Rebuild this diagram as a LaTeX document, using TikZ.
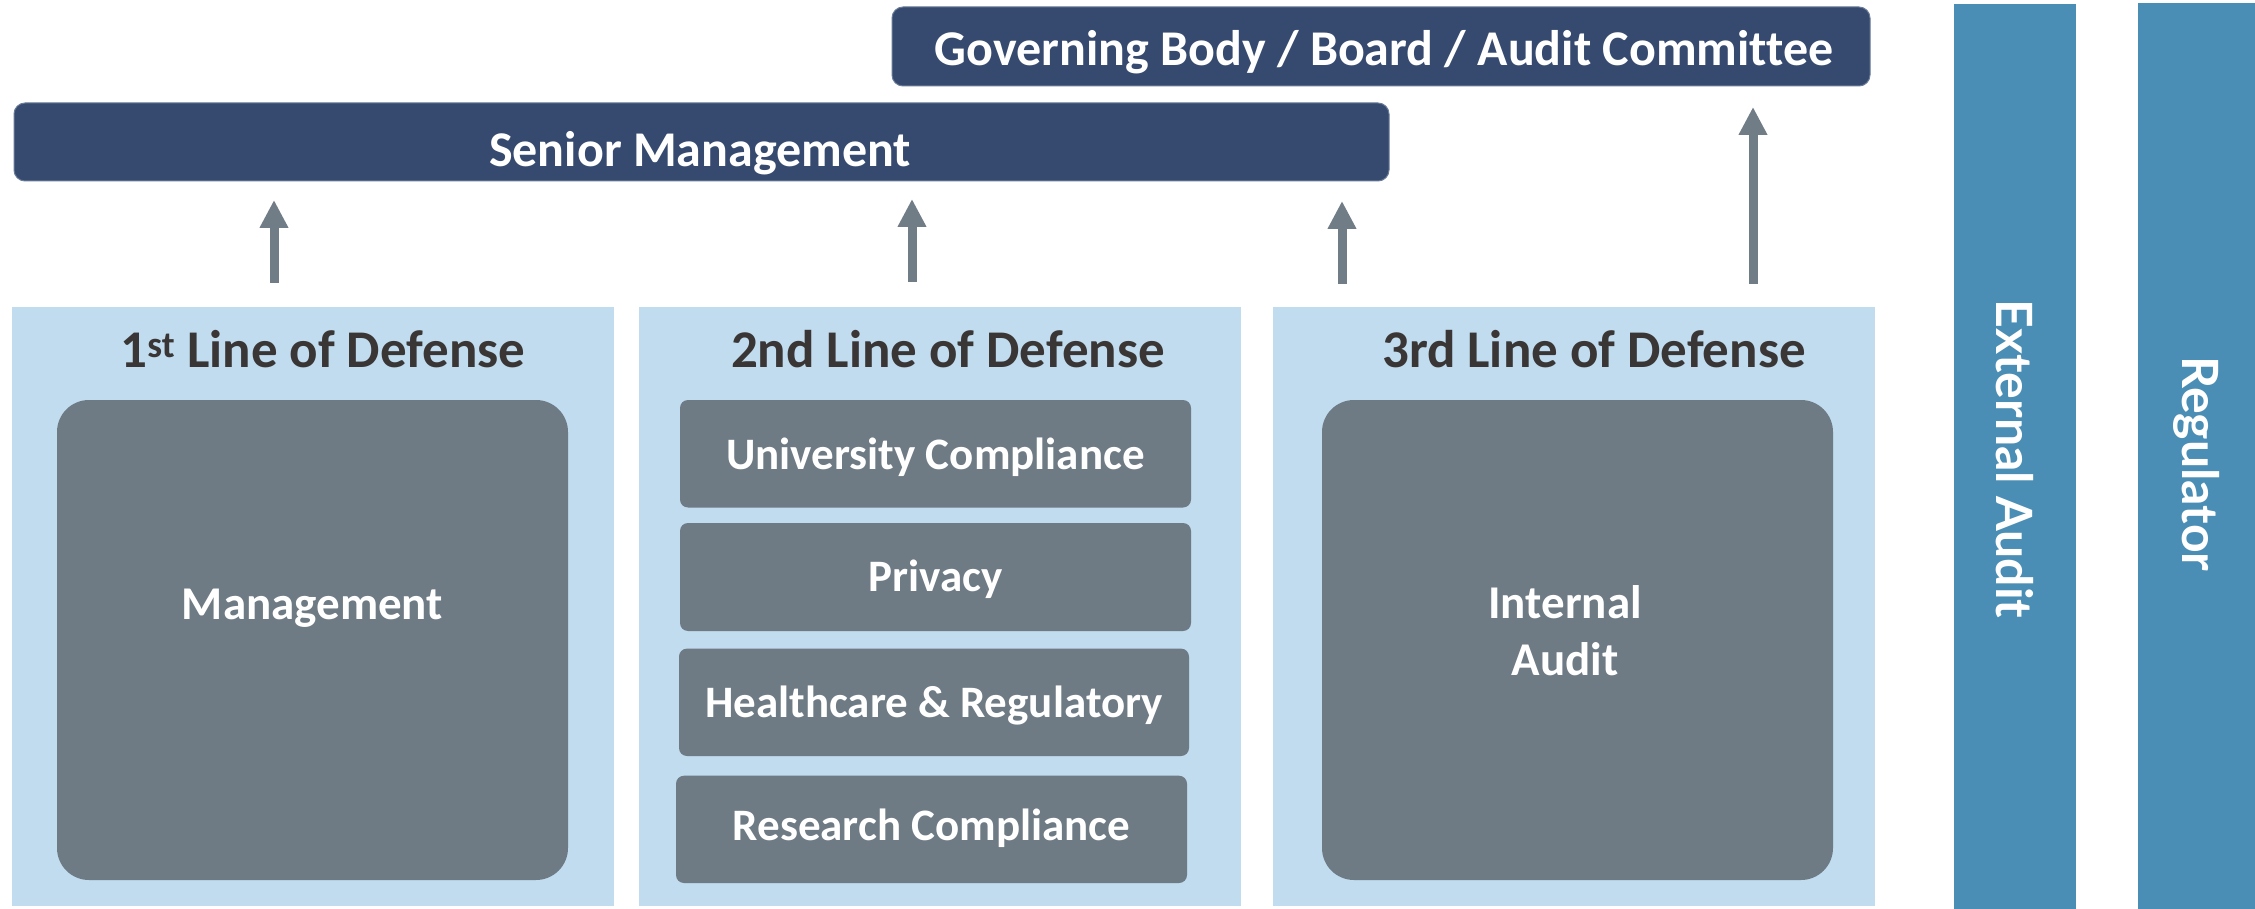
\documentclass[tikz,border=0pt]{standalone}
\usepackage{fontspec}
\setmainfont{Carlito}[Ligatures={NoCommon}]
\newfontfamily\latofont{Lato}[Ligatures={NoCommon}]
\usetikzlibrary{arrows.meta}
\definecolor{navy}{HTML}{364A6F}
\definecolor{navyedge}{HTML}{6A7C98}
\definecolor{lightblue}{HTML}{C0DCEE}
\definecolor{slate}{HTML}{6E7A84}
\definecolor{arrowgray}{HTML}{707C86}
\definecolor{barblue}{HTML}{4A8EB5}
\definecolor{titlegray}{HTML}{3A3636}
\begin{document}
\begin{tikzpicture}[x=1pt,y=-1pt,
  box/.style={rectangle, inner sep=0pt, outer sep=0pt},
  navybox/.style={box, fill=navy, draw=navyedge, line width=1pt, rounded corners=11pt},
  linebox/.style={box, fill=lightblue},
  bigbox/.style={box, fill=slate, rounded corners=32pt},
  itembox/.style={box, fill=slate, rounded corners=8pt},
  bar/.style={box, fill=barblue},
  headtext/.style={text=white, font=\bfseries\fontsize{50}{60}\selectfont, inner sep=0pt},
  titletext/.style={text=titlegray, font=\bfseries\fontsize{53}{64}\selectfont, inner sep=0pt},
  itemtext/.style={text=white, font=\bfseries\fontsize{45}{54}\selectfont, inner sep=0pt},
  bigtext/.style={text=white, font=\bfseries\fontsize{47}{57}\selectfont, inner sep=0pt, align=center},
  bartext/.style={text=white, font=\latofont\bfseries\fontsize{50}{60}\selectfont, inner sep=0pt, rotate=-90},
  uparrow/.style={draw=arrowgray, line width=9pt, -{Triangle[width=27pt,length=28pt]}},
]
\useasboundingbox (0,0) rectangle (2255,909);
\fill[white] (0,0) rectangle (2255,909);

% top bars
\node[navybox, minimum width=978pt, minimum height=79pt] (gov) at (1381,46.5) {};
\node[headtext, anchor=base] (govt) at (1384,66) {Governing Body / Board / Audit Committee};
\node[navybox, minimum width=1375pt, minimum height=78pt] (senior) at (701.5,142) {};
\node[headtext, anchor=base] (seniort) at (700,167) {Senior Management};

% line of defense panels
\node[linebox, minimum width=602pt, minimum height=599pt] (l1) at (313,606.5) {};
\node[linebox, minimum width=602pt, minimum height=599pt] (l2) at (940,606.5) {};
\node[linebox, minimum width=602pt, minimum height=599pt] (l3) at (1574,606.5) {};
\node[titletext, anchor=base] (t1) at (323,367) {1\textsuperscript{st} Line of Defense};
\node[titletext, anchor=base] (t2) at (948,367) {2nd Line of Defense};
\node[titletext, anchor=base] (t3) at (1594,367) {3rd Line of Defense};

% inner boxes
\node[bigbox, minimum width=511pt, minimum height=480pt] (mgmt) at (312.5,640) {};
\node[bigtext, anchor=base] (mgmtt) at (312.5,619) {Management};
\node[bigbox, minimum width=511pt, minimum height=480pt] (ia) at (1577.5,640) {};
\node[bigtext] (iat) at (1565,631) {Internal\\Audit};

\node[itembox, minimum width=511pt, minimum height=107.5pt] (uc) at (935.5,453.75) {};
\node[itemtext, anchor=base] (uct) at (935.5,469.5) {University Compliance};
\node[itembox, minimum width=511pt, minimum height=108pt] (pr) at (935.5,577) {};
\node[itemtext, anchor=base] (prt) at (935.5,591) {Privacy};
\node[itembox, minimum width=510pt, minimum height=107.4pt] (hr) at (934,702.3) {};
\node[itemtext, anchor=base] (hrt) at (934,717.4) {Healthcare \& Regulatory};
\node[itembox, minimum width=511pt, minimum height=107.3pt] (rc) at (931.5,829.35) {};
\node[itemtext, anchor=base] (rct) at (931.5,840) {Research Compliance};

% side bars
\node[bar, minimum width=122pt, minimum height=905pt] (ext) at (2015,456.5) {};
\node[bartext] (extt) at (2015,459) {External Audit};
\node[bar, minimum width=117pt, minimum height=906pt] (reg) at (2196.5,456) {};
\node[bartext] (regt) at (2196.5,464) {Regulator};

% arrows
\coordinate (a1s) at (274,283); \coordinate (a1e) at (274,200);
\coordinate (a2s) at (912,282); \coordinate (a2e) at (912,199);
\coordinate (a3s) at (1342,284); \coordinate (a3e) at (1342,201);
\coordinate (a4s) at (1753,284); \coordinate (a4e) at (1753,107);
\draw[uparrow] (a1s) -- (a1e);
\draw[uparrow] (a2s) -- (a2e);
\draw[uparrow] (a3s) -- (a3e);
\draw[uparrow] (a4s) -- (a4e);
\end{tikzpicture}
\end{document}
